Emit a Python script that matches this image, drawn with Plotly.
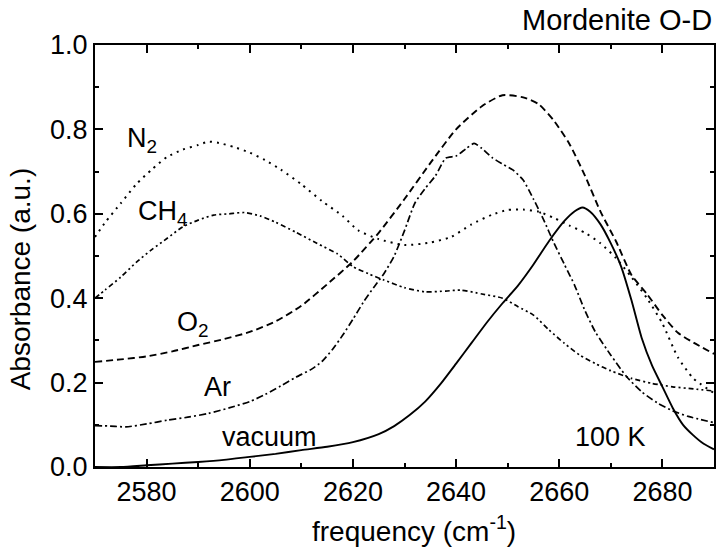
import plotly.graph_objects as go

# ---------------- data ----------------
vac_x = [2570, 2575, 2580, 2585, 2590, 2595, 2600, 2605, 2610, 2615, 2620, 2625, 2628, 2631,
         2634, 2637, 2640, 2643, 2646, 2649, 2652, 2655, 2658, 2661, 2663, 2664.5, 2666, 2668,
         2670, 2672, 2674, 2676, 2678, 2680, 2682, 2684, 2686, 2688, 2690]
vac_y = [0.0, 0.0, 0.004, 0.008, 0.012, 0.017, 0.024, 0.031, 0.040, 0.048, 0.059, 0.078, 0.097,
         0.123, 0.155, 0.197, 0.245, 0.294, 0.343, 0.388, 0.43, 0.48, 0.535, 0.583, 0.606, 0.615,
         0.605, 0.575, 0.53, 0.475, 0.395, 0.305, 0.24, 0.19, 0.14, 0.10, 0.075, 0.055, 0.042]

o2_x = [2570, 2575, 2580, 2585, 2590, 2595, 2600, 2605, 2610, 2615, 2620, 2625, 2630,
        2635, 2640, 2645, 2649, 2653, 2656, 2659, 2662, 2665, 2668, 2671, 2674, 2677, 2680,
        2683, 2686, 2690]
o2_y = [0.249, 0.255, 0.262, 0.274, 0.289, 0.303, 0.32, 0.345, 0.382, 0.433, 0.487, 0.555,
        0.635, 0.72, 0.80, 0.855, 0.881, 0.876, 0.86, 0.82, 0.765, 0.69, 0.605, 0.535, 0.455,
        0.41, 0.36, 0.318, 0.295, 0.268]

n2_x = [2570, 2572, 2575, 2578, 2581, 2584, 2587, 2590, 2592, 2594, 2597, 2600, 2603, 2606,
        2610, 2614, 2618, 2621, 2625, 2630, 2635, 2639, 2643, 2647, 2650, 2653, 2656, 2659,
        2662, 2665, 2668, 2671, 2674, 2677, 2680, 2683, 2686, 2690]
n2_y = [0.545, 0.58, 0.625, 0.67, 0.705, 0.735, 0.752, 0.763, 0.771, 0.768, 0.758, 0.745, 0.727,
        0.705, 0.67, 0.63, 0.595, 0.561, 0.54, 0.526, 0.532, 0.545, 0.575, 0.598, 0.609, 0.61,
        0.605, 0.59, 0.572, 0.555, 0.53, 0.495, 0.45, 0.40, 0.34, 0.26, 0.21, 0.175]

ch4_x = [2570, 2572, 2575, 2578, 2581, 2584, 2587, 2590, 2593, 2596, 2599, 2602, 2605, 2609,
         2613, 2617, 2620, 2623, 2626, 2630, 2634, 2638, 2641, 2645, 2649, 2652, 2655, 2658,
         2661, 2664, 2667, 2670, 2674, 2678, 2682, 2686, 2690]
ch4_y = [0.40, 0.42, 0.45, 0.485, 0.515, 0.542, 0.569, 0.585, 0.597, 0.600, 0.603, 0.595, 0.58,
         0.556, 0.53, 0.505, 0.475, 0.458, 0.443, 0.425, 0.415, 0.417, 0.419, 0.41, 0.40, 0.38,
         0.36, 0.325, 0.293, 0.265, 0.245, 0.228, 0.21, 0.198, 0.19, 0.185, 0.18]

ar_x = [2570, 2573, 2576, 2580, 2584, 2588, 2592, 2596, 2600, 2603, 2606, 2609, 2612, 2614,
        2616, 2618, 2620, 2622, 2624, 2626, 2628, 2630, 2632, 2634, 2636, 2638, 2640, 2642,
        2643.5, 2645, 2647, 2649, 2651, 2653, 2655, 2657, 2659, 2661, 2663, 2665, 2667, 2670,
        2673, 2676, 2679, 2682, 2685, 2690]
ar_y = [0.098, 0.097, 0.095, 0.102, 0.111, 0.118, 0.127, 0.140, 0.155, 0.172, 0.192, 0.213,
        0.232, 0.25, 0.278, 0.312, 0.35, 0.39, 0.425, 0.458, 0.50, 0.56, 0.625, 0.66, 0.69,
        0.732, 0.737, 0.755, 0.767, 0.755, 0.733, 0.718, 0.704, 0.68, 0.635, 0.585, 0.53, 0.48,
        0.43, 0.37, 0.32, 0.265, 0.215, 0.178, 0.152, 0.133, 0.12, 0.105]

x_ticks = [2580, 2600, 2620, 2640, 2660, 2680]
y_ticks = [0.0, 0.2, 0.4, 0.6, 0.8, 1.0]

FONT = "Liberation Sans, Arial, sans-serif"
FS = 27

fig = go.Figure()

def add(x, y, dash, width):
    fig.add_trace(go.Scatter(x=x, y=y, mode="lines",
                             line=dict(color="black", width=width, dash=dash,
                                       shape="spline", smoothing=0.6),
                             showlegend=False, hoverinfo="skip"))

add(n2_x, n2_y, "2px,5px", 2)
add(ch4_x, ch4_y, "5px,3px,2px,3px,2px,3px", 1.7)
add(o2_x, o2_y, "7px,4px", 1.9)
add(ar_x, ar_y, "7px,3px,2px,3px", 1.7)
add(vac_x, vac_y, "solid", 1.9)

labels = [
    ("N<sub>2</sub>", 2575.9, 0.775),
    ("CH<sub>4</sub>", 2578.0, 0.602),
    ("O<sub>2</sub>", 2585.5, 0.338),
    ("Ar", 2590.8, 0.189),
    ("vacuum", 2594.2, 0.07),
    ("100 K", 2662.6, 0.07),
]
for t, x, y in labels:
    fig.add_annotation(x=x, y=y, xref="x", yref="y", text=t, showarrow=False,
                       xanchor="left", yanchor="middle",
                       font=dict(family=FONT, size=FS, color="black"))

fig.add_annotation(x=1.0, y=1.0, xref="paper", yref="paper", text="Mordenite O-D",
                   showarrow=False, xanchor="right", yanchor="bottom", yshift=7,
                   font=dict(family=FONT, size=FS + 2, color="black"))
fig.add_annotation(x=-0.119, y=0.4455, xref="paper", yref="paper", text="Absorbance (a.u.)",
                   textangle=-90, showarrow=False, xanchor="center", yanchor="middle",
                   font=dict(family=FONT, size=FS + 1, color="black"))
fig.add_annotation(x=0.515, y=-0.147, xref="paper", yref="paper",
                   text="frequency (cm<sup>-1</sup>)",
                   showarrow=False, xanchor="center", yanchor="middle",
                   font=dict(family=FONT, size=FS + 1, color="black"))

axis_common = dict(showgrid=False, zeroline=False, showline=True, linecolor="black",
                   linewidth=2, ticks="inside", ticklen=8, tickwidth=1.5, tickcolor="black",
                   mirror="ticks",
                   tickfont=dict(family=FONT, size=FS, color="black"))

fig.update_xaxes(range=[2570, 2690], tickvals=x_ticks, ticktext=[str(v) for v in x_ticks],
                 minor=dict(ticks="inside", ticklen=4, tick0=2570, dtick=10,
                            tickcolor="black", tickwidth=1.5),
                 **axis_common)
fig.update_yaxes(range=[0, 1.0], tickvals=y_ticks, ticktext=[f"{v:.1f}" for v in y_ticks],
                 minor=dict(ticks="inside", ticklen=4, tick0=0, dtick=0.1,
                            tickcolor="black", tickwidth=1.5),
                 **axis_common)

fig.update_layout(width=718, height=549, autosize=False,
                  margin=dict(l=95, r=2, t=45, b=82),
                  paper_bgcolor="white", plot_bgcolor="white",
                  font=dict(family=FONT, size=FS, color="black"))

fig.write_html("out.html")
